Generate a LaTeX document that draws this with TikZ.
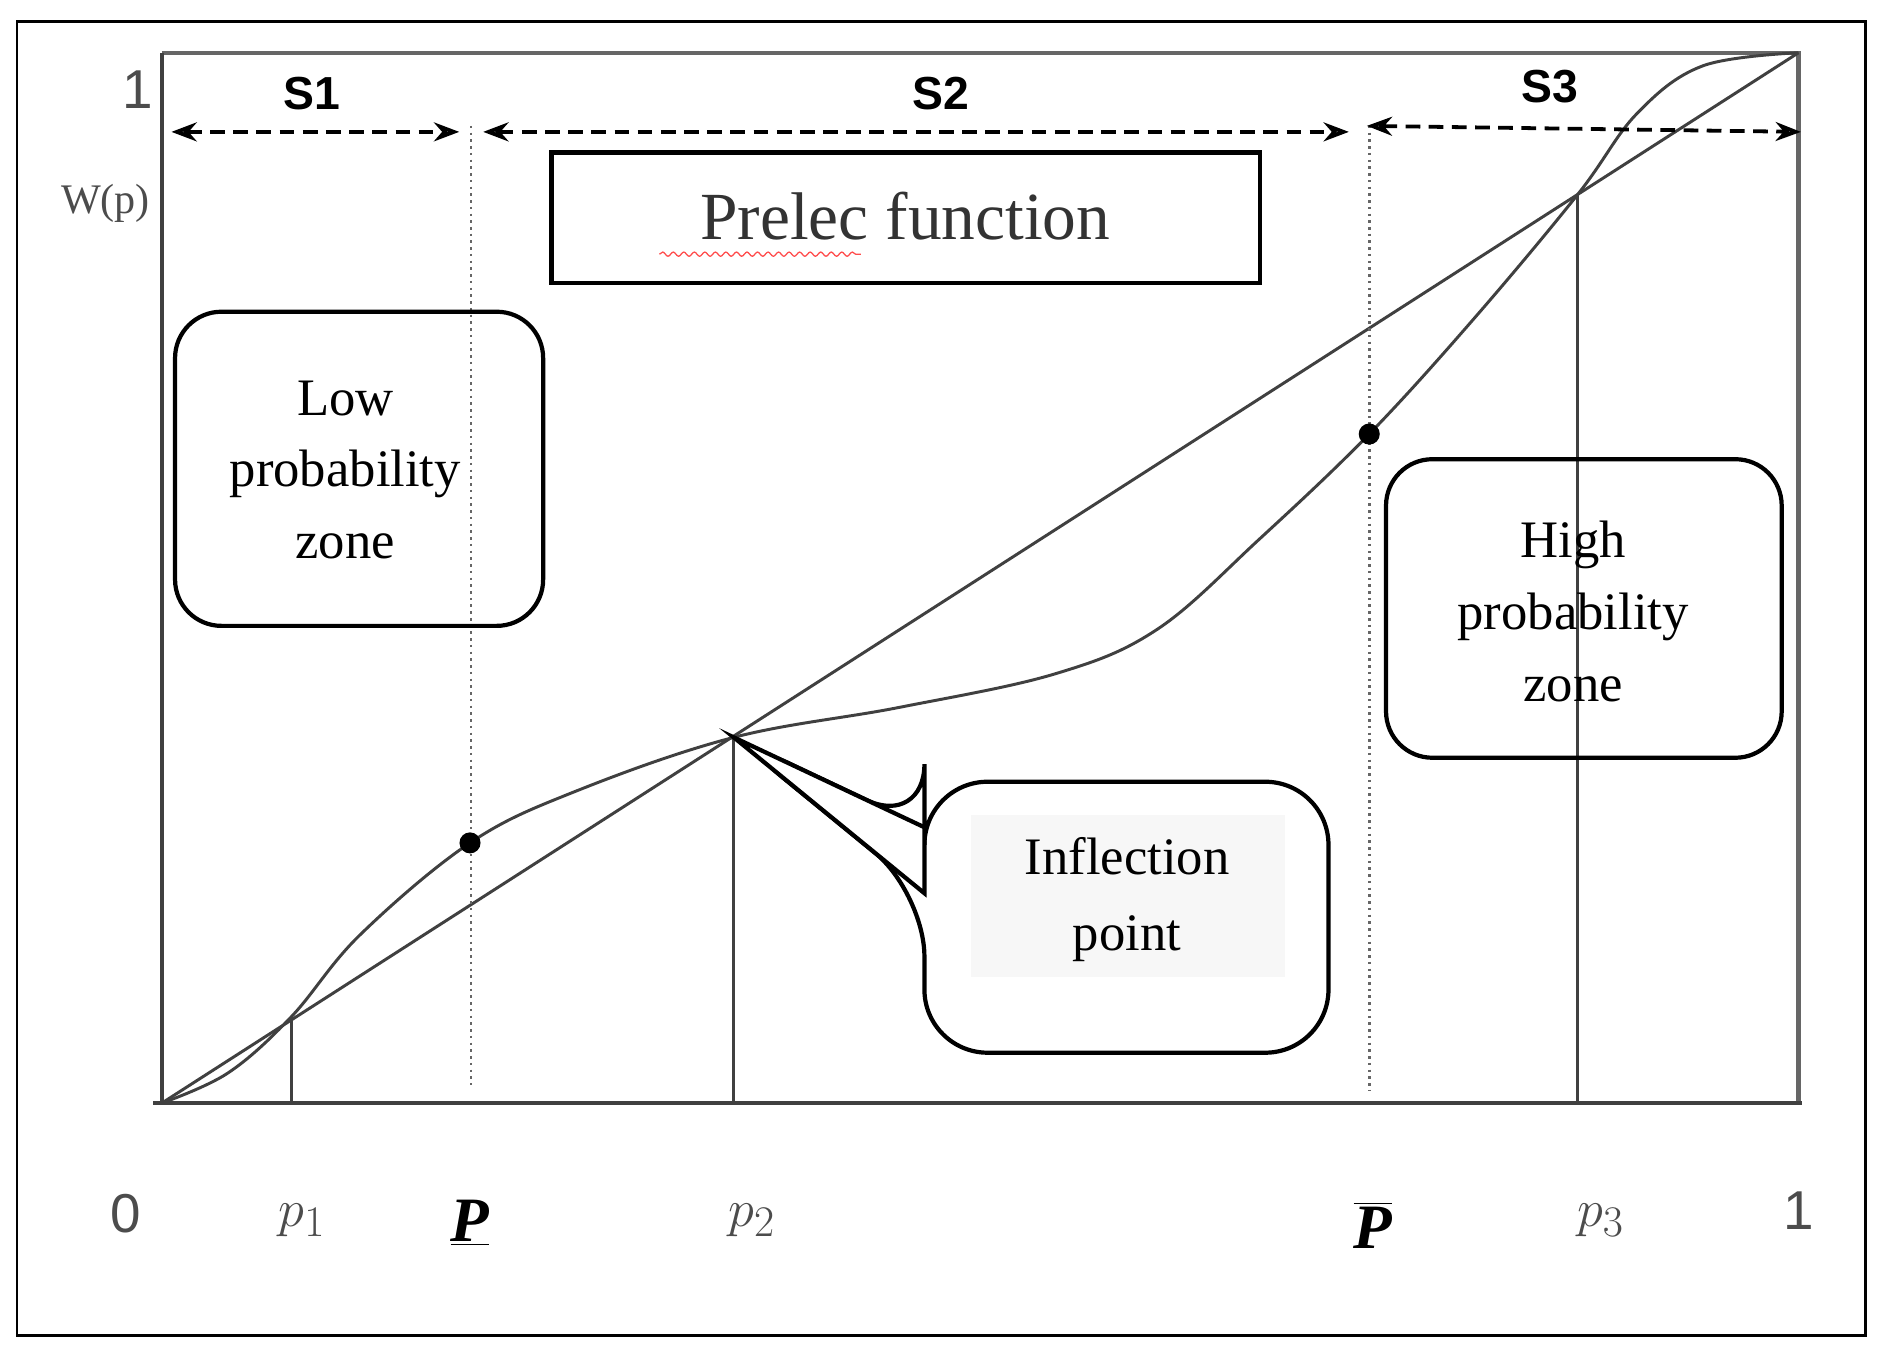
\documentclass[tikz,border=0pt]{standalone}
\usepackage{fontspec}
\setmainfont{Liberation Serif}
\newfontfamily\sansf{Liberation Sans}
\usetikzlibrary{arrows.meta,calc,decorations.pathmorphing}
\begin{document}
\begin{tikzpicture}[x=0.02cm,y=-0.02cm,
  ln/.style={line width=1.4pt,black!75},
  dimarr/.style={line width=1.8pt,dashed,dash pattern=on 7pt off 4pt,{Stealth[length=12pt,width=9pt,open]}-{Stealth[length=12pt,width=9pt,open]}},
  sl/.style={font=\sansf\bfseries\fontsize{22}{24}\selectfont},
  xl/.style={font=\itshape\fontsize{30}{32}\selectfont,text=black!70},
  dot/.style={circle,fill=black,inner sep=0pt,minimum size=10pt}]
\useasboundingbox (0,0) rectangle (1568,1124);
\fill[white] (0,0) rectangle (1568,1124);
\draw[line width=1.2pt] (14,18) rectangle (1556,1114);
% axes frame
\coordinate (O) at (135,920); \coordinate (TR) at (1500,44);
\draw[ln,black!60,line width=2pt] (135,44) -- (1500,44) -- (1500,920);
\draw[ln,line width=2pt] (135,44) -- (135,920);
\draw[ln,line width=2pt] (128,920) -- (1503,920);
\draw[ln] (O) -- (TR);
\draw[ln] plot[smooth,tension=0.6] coordinates {(135,920) (190,895) (243,848) (300,780) (392,703) (480,660) (612,615) (750,590) (880,562) (965,525) (1050,450) (1142,362) (1230,265) (1316,162) (1365,95) (1420,55) (1500,44)};
% verticals
\coordinate (a1) at (243,848); \coordinate (b1) at (243,920);
\coordinate (a2) at (612,615); \coordinate (b2) at (612,920);
\coordinate (a3) at (1316,162); \coordinate (b3) at (1316,920);
\draw[ln] (a1)--(b1) (a2)--(b2) (a3)--(b3);
\coordinate (d1) at (393,105); \coordinate (e1) at (393,905);
\coordinate (d2) at (1142,105); \coordinate (e2) at (1142,910);
\draw[black!60,line width=1.2pt,dotted] (d1)--(e1) (d2)--(e2);
\node[dot] (m1) at (392,703) {};
\node[dot] (m2) at (1142,362) {};
% arrows
\coordinate (s1a) at (143,110); \coordinate (s1b) at (383,110);
\coordinate (s2a) at (403,110); \coordinate (s2b) at (1125,110);
\coordinate (s3a) at (1140,105); \coordinate (s3b) at (1502,110);
\draw[dimarr] (s1a)--(s1b);
\draw[dimarr] (s2a)--(s2b);
\draw[dimarr] (s3a)--(s3b);
\node[sl] (S1) at (260,78) {S1};
\node[sl] (S2) at (785,78) {S2};
\node[sl] (S3) at (1293,72) {S3};
\node[font=\sansf\fontsize{26}{28}\selectfont,text=black!70] (one) at (115,75) {1};
\node[font=\fontsize{20}{22}\selectfont,text=black!70] (wp) at (88,170) {W(p)};
% boxes
\draw[line width=2.2pt] (460,127) rectangle (1051,236);
\node[font=\fontsize{32}{34}\selectfont,text=black!80] (pt) at (755,180) {Prelec function};
\coordinate (w1) at (550,212); \coordinate (w2) at (718,212);
\draw[red!70,line width=0.6pt,decorate,decoration={snake,amplitude=1pt,segment length=5pt}] (w1) -- (w2);
\draw[line width=2pt,rounded corners=22pt] (146,260) rectangle (453,522);
\node[align=center,font=\fontsize{25}{34}\selectfont] (lowt) at (288,392) {Low\\probability\\zone};
\draw[line width=2pt,rounded corners=22pt] (1156,383) rectangle (1486,632);
\node[align=center,font=\fontsize{25}{34}\selectfont] (hight) at (1312,510) {High\\probability\\zone};
\draw[line width=2pt,rounded corners=30pt] (a2) -- (771,690) -- (771,652) -- (1108,652) -- (1108,878) -- (771,878) -- (771,745) -- cycle;
\draw[line width=2pt,fill=white] (a2) -- (771,690) -- (771,745) -- cycle;
\fill[black!3] (810,680) rectangle (1072,815);
\node[align=center,font=\fontsize{25}{36}\selectfont] (infl) at (940,750) {Inflection\\point};
% bottom labels
\node[font=\sansf\fontsize{26}{28}\selectfont,text=black!70] (x0) at (105,1012) {0};
\node[xl] (xp1) at (252,1018) {$p_1$};
\node[font=\bfseries\itshape\fontsize{30}{32}\selectfont] (xP) at (392,1020) {\underline{P}};
\node[xl] (xp2) at (627,1018) {$p_2$};
\node[font=\bfseries\itshape\fontsize{30}{32}\selectfont] (xPb) at (1145,1022) {$\overline{\mbox{\bfseries\itshape P}}$};
\node[xl] (xp3) at (1335,1018) {$p_3$};
\node[font=\sansf\fontsize{26}{28}\selectfont,text=black!70] (x1) at (1500,1010) {1};
\end{tikzpicture}
\end{document}
